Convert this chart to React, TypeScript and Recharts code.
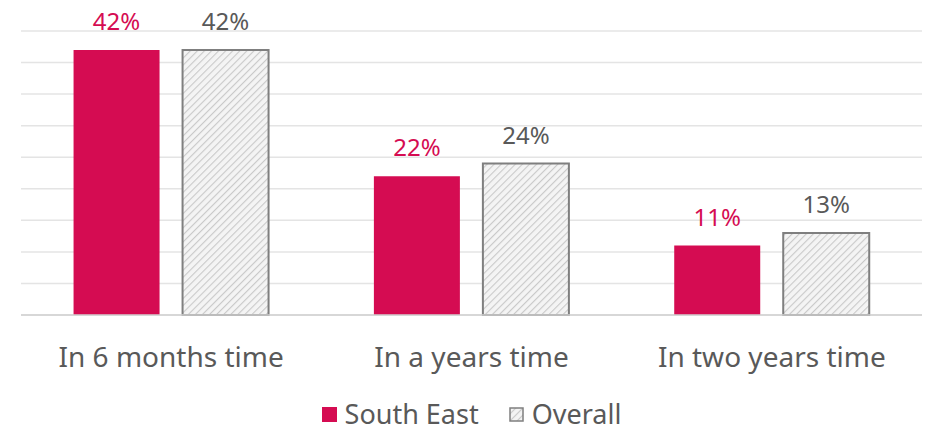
import React from 'react';
import { BarChart, Bar, XAxis, YAxis, CartesianGrid, Legend, LabelList } from 'recharts';

const categories = ['In 6 months time', 'In a years time', 'In two years time'];
const southEast = [42, 22, 11];
const overall = [42, 24, 13];
const yTicks = [0, 5, 10, 15, 20, 25, 30, 35, 40, 45];

const data = categories.map((name, i) => ({
  name,
  southEast: southEast[i],
  overall: overall[i],
}));

const FONT = '"Noto Sans", "Open Sans", sans-serif';
const RED = '#D50C52';
const GREY_TEXT = '#595959';

const renderLegend = () => (
  <div style={{ display: 'flex', justifyContent: 'center', alignItems: 'center', fontFamily: FONT, fontSize: 27, lineHeight: '30px', color: GREY_TEXT, height: 30 }}>
    <span style={{ display: 'flex', alignItems: 'center', marginRight: 30 }}>
      <svg width={15} height={15} style={{ marginRight: 8 }}>
        <rect x={0} y={0} width={15} height={15} fill={RED} />
      </svg>
      South East
    </span>
    <span style={{ display: 'flex', alignItems: 'center' }}>
      <svg width={15} height={15} style={{ marginRight: 8 }}>
        <rect x={1} y={1} width={13} height={13} fill="url(#hatch)" stroke="#7F7F7F" strokeWidth={1.5} />
      </svg>
      Overall
    </span>
  </div>
);

const App: React.FC = () => {
  return (
    <div style={{ position: 'absolute', left: 0, top: 0, background: '#fff' }}>
      <BarChart
        width={930}
        height={432}
        data={data}
        margin={{ top: 31, right: 8, left: 21, bottom: 3 }}
        barCategoryGap="17.5%"
        barGap={23}
      >
        <defs>
          <pattern id="hatch" patternUnits="userSpaceOnUse" width={5} height={5} patternTransform="rotate(45)">
            <rect x={0} y={0} width={5} height={5} fill="#F4F4F4" />
            <line x1={0} y1={0} x2={0} y2={5} stroke="#C9C9C9" strokeWidth={2.2} />
          </pattern>
        </defs>
        <CartesianGrid horizontal vertical={false} stroke="#E4E4E4" strokeWidth={1.5} />
        <XAxis
          dataKey="name"
          height={84}
          axisLine={{ stroke: '#D0D0D0', strokeWidth: 1.5 }}
          tickLine={false}
          tick={{ fill: GREY_TEXT, fontSize: 28, fontFamily: FONT }}
          tickMargin={26}
          interval={0}
        />
        <YAxis hide domain={[0, 45]} ticks={yTicks} />
        <Legend verticalAlign="bottom" content={renderLegend} />
        <Bar dataKey="southEast" name="South East" fill={RED} isAnimationActive={false}>
          <LabelList dataKey="southEast" position="top" offset={20} formatter={(v: any) => `${v}%`} style={{ fill: RED, fontSize: 24, fontFamily: FONT }} />
        </Bar>
        <Bar dataKey="overall" name="Overall" fill="url(#hatch)" stroke="#7F7F7F" strokeWidth={2} isAnimationActive={false}>
          <LabelList dataKey="overall" position="top" offset={20} formatter={(v: any) => `${v}%`} style={{ fill: GREY_TEXT, fontSize: 24, fontFamily: FONT }} />
        </Bar>
      </BarChart>
    </div>
  );
};

export default App;
